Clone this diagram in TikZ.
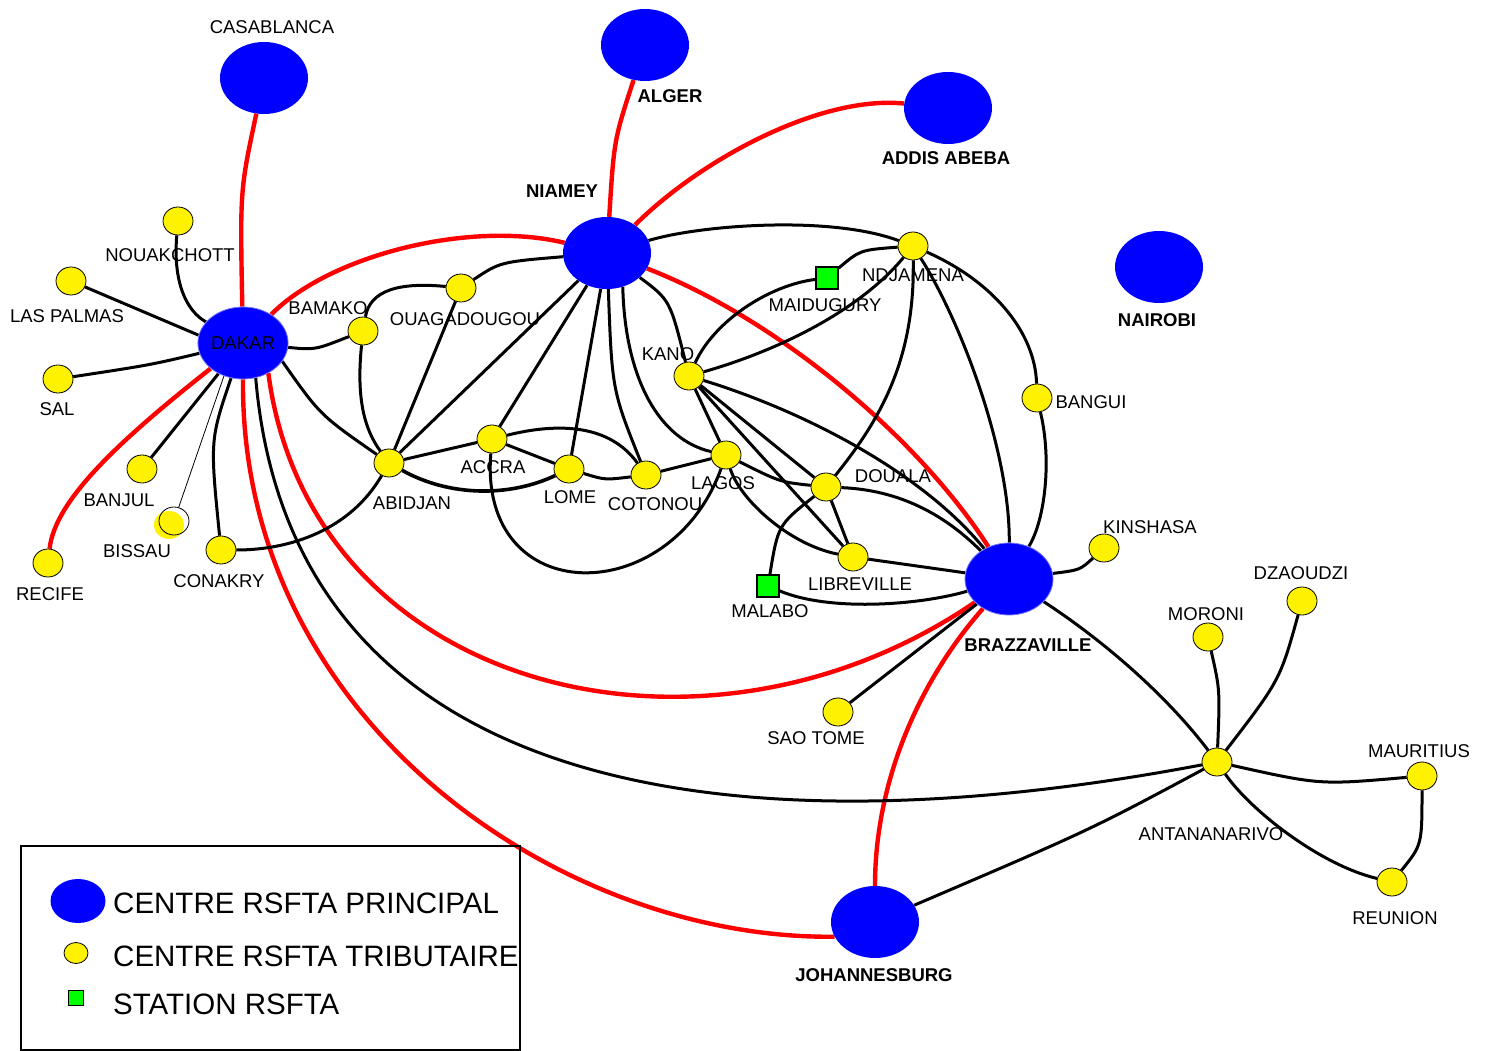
\documentclass[tikz,border=0pt]{standalone}
\usepackage{fontspec}
\setmainfont{Liberation Sans}
\usetikzlibrary{shapes.geometric}
\pgfdeclarelayer{links}
\pgfsetlayers{links,main}
\newcommand\lblsize{\fontsize{18.5}{21}\selectfont}
\newcommand\keysize{\fontsize{29.5}{32}\selectfont}

\begin{document}
\begin{tikzpicture}[x=1pt,y=-1pt,
  hub/.style={ellipse,fill=blue,minimum width=88pt,minimum height=72pt,inner sep=0pt,font=\lblsize},
  trib/.style={ellipse,draw=black,line width=0.8pt,fill=yellow,minimum width=30pt,minimum height=28pt,inner sep=0pt},
  stat/.style={rectangle,draw=black,line width=1.2pt,fill=green,minimum size=22pt,inner sep=0pt},
  town/.style={inner sep=0pt,font=\lblsize},
  btown/.style={inner sep=0pt,font=\lblsize\bfseries},
  link/.style={line width=3pt},
  rlink/.style={line width=4.4pt,red}]
  \useasboundingbox (0,0) rectangle (1486,1051);

  % centres principaux
  \node[hub] (cas) at (264,78) {};
  \node[hub] (alg) at (645,45) {};
  \node[hub] (add) at (948,108) {};
  \node[hub] (nim) at (607,253) {};
  \node[hub] (nai) at (1159,267) {};
  \node[hub,draw=blue!55!white,line width=0.8pt] (dkr) at (243,343) {DAKAR};
  \node[hub,draw=blue!55!white,line width=0.8pt] (bzv) at (1009,579) {};
  \node[hub] (joh) at (875,922) {};

  % centres tributaires
  \node[trib] (nou) at (178,221) {};
  \node[trib] (lpa) at (71,281) {};
  \node[trib] (sal) at (58,379) {};
  \node[trib] (ban) at (142,469) {};
  \node[trib,draw=none] (bisf) at (169,525) {};
  \node[ellipse,draw=black,line width=0.8pt,minimum width=30pt,minimum height=28pt,inner sep=0pt] (bis) at (174,521) {};
  \node[trib] (rec) at (48,563) {};
  \node[trib] (con) at (221,550) {};
  \node[trib] (bam) at (363,331) {};
  \node[trib] (oua) at (461,288) {};
  \node[trib] (abi) at (389,463) {};
  \node[trib] (acc) at (492,439) {};
  \node[trib] (lom) at (569,469) {};
  \node[trib] (cot) at (646,475) {};
  \node[trib] (lag) at (726,455) {};
  \node[trib] (kan) at (689,376) {};
  \node[trib] (ndj) at (913,246) {};
  \node[trib] (dou) at (826,487) {};
  \node[trib] (lib) at (853,557) {};
  \node[trib] (bgi) at (1037,398) {};
  \node[trib] (kin) at (1104,548) {};
  \node[trib] (sao) at (838,712) {};
  \node[trib] (mor) at (1208,637) {};
  \node[trib] (dza) at (1302,601) {};
  \node[trib] (ant) at (1217,762) {};
  \node[trib] (mau) at (1422,776) {};
  \node[trib] (reu) at (1392,882) {};

  % stations
  \node[stat] (mai) at (827,278) {};
  \node[stat] (mal) at (768,586) {};

  % noms
  \node[town]  (casl) at (272,27)  {CASABLANCA};
  \node[btown] (algl) at (670,96)  {ALGER};
  \node[btown] (addl) at (946,158) {ADDIS ABEBA};
  \node[btown] (niml) at (562,191) {NIAMEY};
  \node[btown] (nail) at (1157,320) {NAIROBI};
  \node[btown] (bzvl) at (1028,645) {BRAZZAVILLE};
  \node[btown] (johl) at (874,975) {JOHANNESBURG};
  \node[town] (noul) at (170,255) {NOUAKCHOTT};
  \node[town] (lpal) at (67,316)  {LAS PALMAS};
  \node[town] (sall) at (57,409)  {SAL};
  \node[town] (banl) at (119,500) {BANJUL};
  \node[town] (bisl) at (137,551) {BISSAU};
  \node[town] (recl) at (50,594)  {RECIFE};
  \node[town] (conl) at (219,581) {CONAKRY};
  \node[town] (baml) at (328,308) {BAMAKO};
  \node[town] (oual) at (465,319) {OUAGADOUGOU};
  \node[town] (abil) at (412,503) {ABIDJAN};
  \node[town] (accl) at (493,467) {ACCRA};
  \node[town] (loml) at (570,497) {LOME};
  \node[town] (cotl) at (655,504) {COTONOU};
  \node[town] (lagl) at (723,483) {LAGOS};
  \node[town] (kanl) at (668,354) {KANO};
  \node[town] (ndjl) at (913,275) {NDJAMENA};
  \node[town] (mail) at (825,305) {MAIDUGURY};
  \node[town] (doul) at (893,476) {DOUALA};
  \node[town] (libl) at (860,584) {LIBREVILLE};
  \node[town] (mall) at (770,611) {MALABO};
  \node[town] (bgil) at (1091,402) {BANGUI};
  \node[town] (kinl) at (1150,527) {KINSHASA};
  \node[town] (saol) at (816,738) {SAO TOME};
  \node[town] (morl) at (1206,614) {MORONI};
  \node[town] (dzal) at (1301,573) {DZAOUDZI};
  \node[town] (antl) at (1211,834) {ANTANANARIVO};
  \node[town] (maul) at (1419,751) {MAURITIUS};
  \node[town] (reul) at (1395,918) {REUNION};

  \begin{pgfonlayer}{links}
    % liaisons principales
    \draw[rlink] (cas) .. controls (240,190) .. (dkr);
    \draw[rlink] (alg) .. controls (614,140) .. (nim);
    \draw[rlink] (add) .. controls (820,95) and (700,160) .. (nim);
    \draw[rlink] (dkr) .. controls (330,255) and (470,220) .. (nim);
    \draw[rlink] (nim) .. controls (780,320) and (920,440) .. (bzv);
    \draw[rlink] (dkr) .. controls (120,440) and (55,500) .. (rec);
    \draw[rlink] (dkr.-50) .. controls (310,690) and (700,790) .. (bzv);
    \draw[rlink] (dkr.south) .. controls (240,720) and (560,940) .. (joh.200);
    \draw[rlink] (bzv) .. controls (920,680) and (875,780) .. (joh);

    % dakar
    \draw[link] (nou) .. controls (173,280) and (185,310) .. (dkr);
    \draw[link] (lpa) -- (dkr.170);
    \draw[link] (sal) .. controls (150,365) .. (dkr);
    \draw[link] (ban) -- (dkr);
    \draw[line width=0.8pt] (bis) -- (dkr.-120);
    \draw[link] (con) .. controls (210,440) .. (dkr);
    \draw[link] (dkr) .. controls (315,350) .. (bam);
    \draw[link] (dkr.-25) .. controls (320,415) .. (abi);
    \draw[link] (dkr.-70) .. controls (290,780) and (700,860) .. (ant);

    % afrique de l'ouest
    \draw[link] (bam) .. controls (356,400) and (365,430) .. (abi);
    \draw[link] (bam) .. controls (370,290) and (400,282) .. (oua);
    \draw[link] (oua) .. controls (500,262) .. (nim);
    \draw[link] (oua) -- (abi);
    \draw[link] (nim) -- (abi);
    \draw[link] (nim) -- (acc);
    \draw[link] (nim) -- (lom);
    \draw[link] (nim) .. controls (612,390) .. (cot);
    \draw[link] (nim.-65) .. controls (625,380) and (660,440) .. (lag);
    \draw[link] (nim) .. controls (670,300) .. (kan);
    \draw[link] (nim) .. controls (700,225) and (830,215) .. (ndj);
    \draw[link] (abi) -- (acc);
    \draw[line width=3.6pt] (abi) .. controls (450,497) and (510,497) .. (lom);
    \draw[link] (abi) .. controls (350,530) and (290,550) .. (con);
    \draw[link] (acc) -- (lom);
    \draw[link] (acc) .. controls (560,422) and (610,425) .. (cot);
    \draw[link] (acc) .. controls (478,610) and (670,610) .. (lag);
    \draw[link] (lom) .. controls (605,480) .. (cot);
    \draw[link] (cot) -- (lag);

    % afrique centrale
    \draw[link] (mai) .. controls (860,250) .. (ndj);
    \draw[link] (mai) .. controls (770,285) and (715,320) .. (kan);
    \draw[link] (ndj) .. controls (860,310) and (780,350) .. (kan);
    \draw[link] (ndj) .. controls (915,360) and (880,420) .. (dou);
    \draw[link] (ndj) .. controls (960,320) and (1010,450) .. (bzv);
    \draw[link] (ndj) .. controls (990,280) and (1035,330) .. (bgi);
    \draw[link] (bgi) .. controls (1052,460) and (1045,520) .. (bzv);
    \draw[link] (kan) -- (lag);
    \draw[link] (kan) -- (lib);
    \draw[link] (kan) -- (dou);
    \draw[link] (kan) .. controls (800,410) and (920,470) .. (bzv);
    \draw[link] (lag) .. controls (780,482) .. (dou);
    \draw[link] (lag) .. controls (740,500) and (790,545) .. (lib);
    \draw[link] (dou) -- (lib);
    \draw[link] (dou) .. controls (778,525) .. (mal);
    \draw[link] (dou) .. controls (900,490) and (945,515) .. (bzv);
    \draw[link] (lib) -- (bzv);
    \draw[link] (mal) .. controls (830,612) and (920,605) .. (bzv);
    \draw[link] (bzv) .. controls (1080,570) .. (kin);
    \draw[link] (bzv) -- (sao);

    % ocean indien
    \draw[link] (bzv) .. controls (1110,645) and (1170,700) .. (ant);
    \draw[link] (ant) .. controls (1220,690) .. (mor);
    \draw[link] (ant) .. controls (1280,680) .. (dza);
    \draw[link] (ant) .. controls (1320,785) .. (mau);
    \draw[link] (ant) .. controls (1250,810) and (1320,865) .. (reu);
    \draw[link] (mau) .. controls (1422,845) .. (reu);
    \draw[link] (ant) .. controls (1090,830) .. (joh);
  \end{pgfonlayer}

  % legende
  \draw[line width=2pt] (21,846) rectangle (520,1050);
  \node[ellipse,fill=blue,minimum width=55pt,minimum height=44pt,inner sep=0pt] (keyhub) at (78,901) {};
  \node[trib,minimum width=24pt,minimum height=21pt] (keytrib) at (76,953) {};
  \node[stat,minimum size=15pt,line width=1pt] (keystat) at (76,998) {};
  \node[anchor=west,inner sep=0pt,font=\keysize] (keyhubl) at (113,903) {CENTRE RSFTA PRINCIPAL};
  \node[anchor=west,inner sep=0pt,font=\keysize] (keytribl) at (113,956) {CENTRE RSFTA TRIBUTAIRE};
  \node[anchor=west,inner sep=0pt,font=\keysize] (keystatl) at (113,1004) {STATION RSFTA};
\end{tikzpicture}
\end{document}
